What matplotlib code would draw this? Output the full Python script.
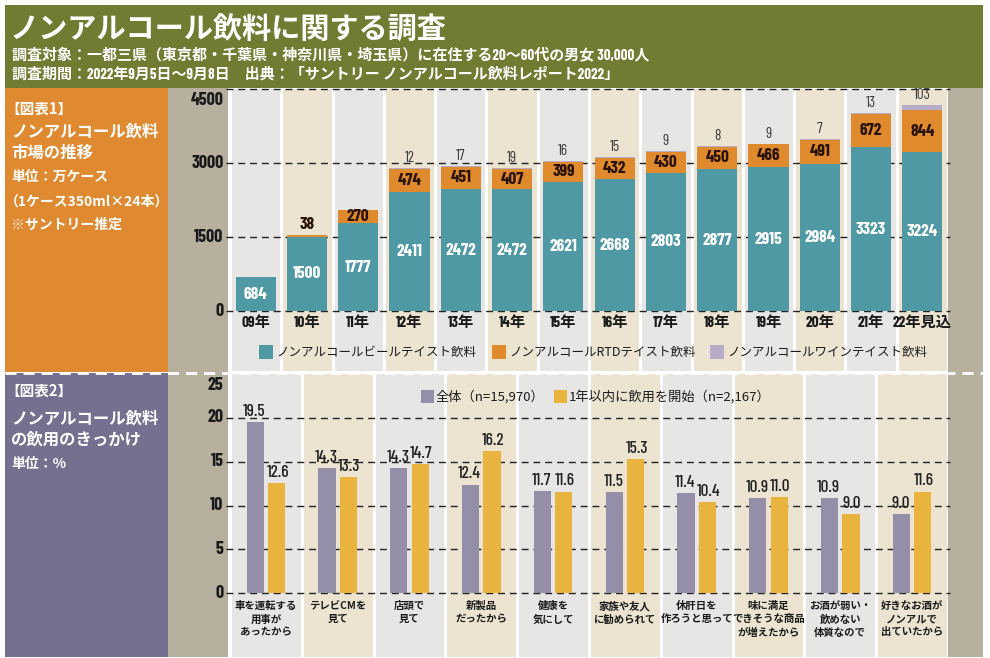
import matplotlib
matplotlib.use("Agg")
import matplotlib.pyplot as plt
from matplotlib.patches import Rectangle
from matplotlib.lines import Line2D
import matplotlib.transforms as mtransforms

plt.rcParams['font.family'] = ['Noto Sans CJK JP', 'DejaVu Sans']
NUM = ['Barlow Condensed', 'Noto Sans CJK JP', 'DejaVu Sans']

# ---------------- data ----------------
years = ['09年', '10年', '11年', '12年', '13年', '14年', '15年', '16年',
         '17年', '18年', '19年', '20年', '21年', '22年見込']
beer = [684, 1500, 1777, 2411, 2472, 2472, 2621, 2668, 2803, 2877, 2915, 2984, 3323, 3224]
rtd = [0, 38, 270, 474, 451, 407, 399, 432, 430, 450, 466, 491, 672, 844]
wine = [0, 0, 0, 12, 17, 19, 16, 15, 9, 8, 9, 7, 13, 103]
series1_names = ['ノンアルコールビールテイスト飲料', 'ノンアルコールRTDテイスト飲料', 'ノンアルコールワインテイスト飲料']
yticks1 = [0, 1500, 3000, 4500]

reasons = ['車を運転する\n用事が\nあったから', 'テレビCMを\n見て', '店頭で\n見て', '新製品\nだったから',
           '健康を\n気にして', '家族や友人\nに勧められて', '休肝日を\n作ろうと思って',
           '味に満足\nできそうな商品\nが増えたから', 'お酒が弱い・\n飲めない\n体質なので',
           '好きなお酒が\nノンアルで\n出ていたから']
overall = [19.5, 14.3, 14.3, 12.4, 11.7, 11.5, 11.4, 10.9, 10.9, 9.0]
new_users = [12.6, 13.3, 14.7, 16.2, 11.6, 15.3, 10.4, 11.0, 9.0, 11.6]
series2_names = ['全体（n=15,970）', '1年以内に飲用を開始（n=2,167）']
yticks2 = [0, 5, 10, 15, 20, 25]

# ---------------- colours ----------------
GREEN = '#717b32'
ORANGE_PANEL = '#df8a30'
PURPLE_PANEL = '#75708f'
STRIP = '#b8b09f'
COL_A = '#e8e6e4'
COL_B = '#ece4d1'
TEAL = '#4f99a5'
ORANGE = '#e08a2e'
WINE = '#b7adc9'
PURPLE = '#958ea9'
YELLOW = '#e9b43d'

W, H = 990, 658
fig = plt.figure(figsize=(W / 100, H / 100), dpi=100, facecolor='white')


def rect(x0, y0, x1, y1, color, z=-5):
    fig.patches.append(Rectangle((x0 / W, 1 - y1 / H), (x1 - x0) / W, (y1 - y0) / H,
                                 transform=fig.transFigure, color=color, zorder=z, lw=0))


def ftext(x, y, s, **kw):
    fig.text(x / W, 1 - y / H, s, **kw)


def axes_px(x0, y0, x1, y1):
    return fig.add_axes([x0 / W, 1 - y1 / H, (x1 - x0) / W, (y1 - y0) / H])


# backgrounds
rect(5, 5, 983, 88, GREEN)
rect(5, 88, 168, 372, ORANGE_PANEL)
rect(5, 373, 168, 657, PURPLE_PANEL)
rect(168, 88, 228, 657, STRIP)
rect(948, 88, 983, 657, STRIP)

# header texts
ftext(10, 30, 'ノンアルコール飲料に関する調査', color='white', fontsize=21, fontweight='bold', va='center')
ftext(12, 55, '調査対象：一都三県（東京都・千葉県・神奈川県・埼玉県）に在住する20～60代の男女 30,000人',
      color='white', fontsize=10.8, fontweight='bold', va='center', family=NUM)
ftext(12, 74, '調査期間：2022年9月5日～9月8日　出典：「サントリー ノンアルコール飲料レポート2022」',
      color='white', fontsize=10.8, fontweight='bold', va='center', family=NUM)

# left panel texts
ftext(5, 109, '【図表1】', color='white', fontsize=10.5, fontweight='bold', va='center')
ftext(11, 132, 'ノンアルコール飲料', color='white', fontsize=11.8, fontweight='bold', va='center')
ftext(11, 153, '市場の推移', color='white', fontsize=11.8, fontweight='bold', va='center')
ftext(11, 177, '単位：万ケース', color='white', fontsize=10, fontweight='bold', va='center')
ftext(5, 202, '（1ケース350ml×24本）', color='white', fontsize=10, fontweight='bold', va='center')
ftext(11, 225, '※サントリー推定', color='white', fontsize=10, fontweight='bold', va='center')

ftext(5, 391, '【図表2】', color='white', fontsize=10.5, fontweight='bold', va='center')
ftext(11, 419, 'ノンアルコール飲料', color='white', fontsize=11.8, fontweight='bold', va='center')
ftext(11, 440, 'の飲用のきっかけ', color='white', fontsize=11.8, fontweight='bold', va='center')
ftext(11, 464, '単位：%', color='white', fontsize=10, fontweight='bold', va='center')


def setup_columns(ax, n):
    ax.set_xlim(-0.5, n - 0.5)
    for i in range(n):
        ax.axvspan(i - 0.5, i + 0.5, color=COL_A if i % 2 == 0 else COL_B, zorder=0, lw=0)
    for i in range(n + 1):
        ax.axvline(i - 0.5, color='white', lw=2.2, zorder=0.5)
    ax.set_axis_off()


def gridlines(ax, ticks, skip_top=False):
    trans = mtransforms.blended_transform_factory(ax.transAxes, ax.transData)
    for t in ticks:
        if skip_top and t == ticks[-1]:
            continue
        ax.add_line(Line2D([-0.006, 1.003], [t, t], transform=trans, color='#222222',
                           lw=1, dashes=(5, 3.5), zorder=1, clip_on=False))


def ytick_labels(ax, ticks):
    trans = mtransforms.blended_transform_factory(ax.transAxes, ax.transData)
    for t in ticks:
        if t == ticks[-1]:
            ax.annotate(str(t), xy=(-0.009, t), xycoords=trans, xytext=(0, -3),
                        textcoords='offset pixels', ha='right', va='top',
                        fontsize=13, fontweight='bold', family=NUM, color='#1a1a1a')
        else:
            ax.text(-0.009, t, str(t), transform=trans, ha='right', va='center',
                    fontsize=13, fontweight='bold', family=NUM, color='#1a1a1a')


# ---------------- chart 1 ----------------
ax1 = axes_px(230, 89, 948, 371)
n1 = len(years)
setup_columns(ax1, n1)
px1 = 74 / 1500.0
ax1.set_ylim(-(371 - 311) / px1, (311 - 89) / px1)
gridlines(ax1, yticks1)
ytick_labels(ax1, yticks1)

x1 = list(range(n1))
bottom_rtd = beer
bottom_wine = [b + r for b, r in zip(beer, rtd)]
ax1.bar(x1, beer, width=0.78, color=TEAL, zorder=2, lw=0)
ax1.bar(x1, rtd, width=0.78, bottom=bottom_rtd, color=ORANGE, zorder=2, lw=0)
ax1.bar(x1, wine, width=0.78, bottom=bottom_wine, color=WINE, zorder=2, lw=0)

for i in x1:
    ax1.text(i, beer[i] / 2, str(beer[i]), ha='center', va='center', color='white',
             fontsize=12.5, fontweight='bold', family=NUM, zorder=3)
    if rtd[i] >= 100:
        ax1.text(i, beer[i] + rtd[i] / 2, str(rtd[i]), ha='center', va='center', color='#2a1206',
                 fontsize=12.5, fontweight='bold', family=NUM, zorder=3)
    elif rtd[i] > 0:
        ax1.annotate(str(rtd[i]), xy=(i, beer[i] + rtd[i]), xytext=(0, 3), textcoords='offset pixels',
                     ha='center', va='bottom', color='#2a1206', fontsize=12.5, fontweight='bold',
                     family=NUM, zorder=3)
    if wine[i] > 0:
        ax1.annotate(str(wine[i]), xy=(i, beer[i] + rtd[i] + wine[i]), xytext=(0, 3),
                     textcoords='offset pixels', ha='center', va='bottom', color='#3a3a3a',
                     fontsize=11, family=NUM, zorder=3)
    ax1.annotate(years[i], xy=(i, 0), xytext=(0, -5), textcoords='offset pixels',
                 ha='center', va='top', color='#1a1a1a', fontsize=11, fontweight='bold',
                 family=NUM)

# legend 1 (figure pixels)
leg1_x = [259, 492, 710]
for xx, c, name in zip(leg1_x, [TEAL, ORANGE, WINE], series1_names):
    rect(xx, 345, xx + 14, 359, c, z=5)
    ftext(xx + 17, 352, name, color='#1a1a1a', fontsize=9, va='center')

# separator
fig.add_artist(Line2D([5 / W, 983 / W], [1 - 372.5 / H, 1 - 372.5 / H], transform=fig.transFigure,
                      color='white', lw=2, dashes=(4, 2.5), zorder=5))

# ---------------- chart 2 ----------------
ax2 = axes_px(230, 374, 948, 657)
n2 = len(reasons)
setup_columns(ax2, n2)
px2 = 8.75
ax2.set_ylim(-(657 - 593) / px2, (593 - 374) / px2)
gridlines(ax2, yticks2, skip_top=True)
ytick_labels(ax2, yticks2)

x2 = list(range(n2))
off = 0.148
bw = 0.24
ax2.bar([i - off for i in x2], overall, width=bw, color=PURPLE, zorder=2, lw=0)
ax2.bar([i + off for i in x2], new_users, width=bw, color=YELLOW, zorder=2, lw=0)
for i in x2:
    ax2.annotate(f'{overall[i]:.1f}', xy=(i - off, overall[i]), xytext=(-1, 3), textcoords='offset pixels',
                 ha='center', va='bottom', color='#222222', fontsize=12.5, fontweight='medium',
                 family=NUM, zorder=3)
    ax2.annotate(f'{new_users[i]:.1f}', xy=(i + off, new_users[i]), xytext=(1, 3), textcoords='offset pixels',
                 ha='center', va='bottom', color='#222222', fontsize=12.5, fontweight='medium',
                 family=NUM, zorder=3)
    ax2.annotate(reasons[i], xy=(i, 0), xytext=(0, -8), textcoords='offset pixels',
                 ha='center', va='top', color='#1a1a1a', fontsize=7.5, fontweight='bold',
                 linespacing=1.4, multialignment='center')

leg2_x = [421, 554]
for xx, c, name in zip(leg2_x, [PURPLE, YELLOW], series2_names):
    rect(xx, 390, xx + 13, 403, c, z=5)
    ftext(xx + 15, 396.5, name, color='#1a1a1a', fontsize=9.5, va='center')

fig.savefig('out.png', dpi=100, facecolor='white')
